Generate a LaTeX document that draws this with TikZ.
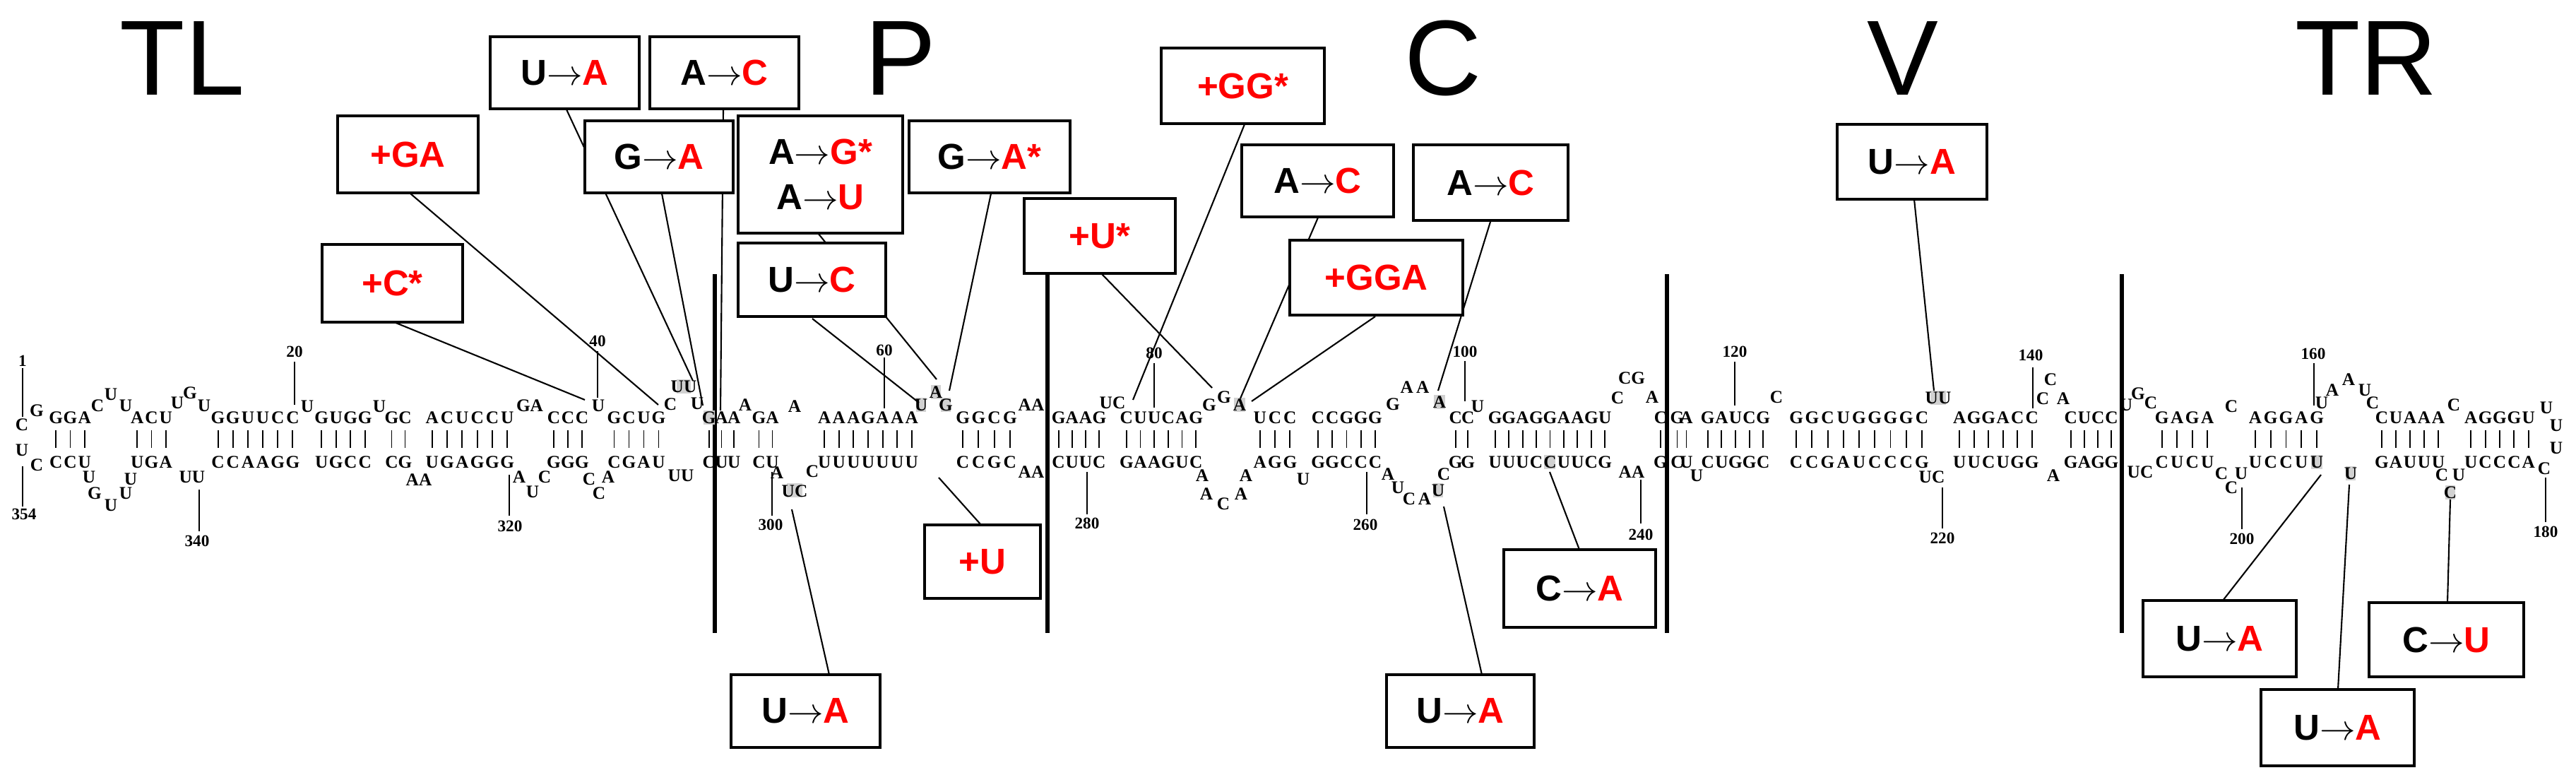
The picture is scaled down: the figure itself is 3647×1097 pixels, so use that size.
\documentclass[tikz,border=0pt]{standalone}
\usepackage{fontspec}
\setmainfont{Liberation Serif}
\newfontfamily\sansf{Liberation Sans}
\begin{document}
\newcounter{ntc}
\tikzset{
 nt/.style={inner sep=0pt,font=\fontsize{7.2}{7}\selectfont\bfseries},
 num/.style={inner sep=0pt,font=\fontsize{6.6}{7}\selectfont\bfseries},
 bar/.style={line width=0.55pt,shorten <=0.09cm,shorten >=0.11cm},
 tick/.style={line width=0.5pt},
 conn/.style={line width=0.6pt},
 sep/.style={line width=1.8pt},
 box/.style={draw,line width=1.3pt,fill=white,inner sep=0pt,font=\sansf\fontsize{14.5}{18}\selectfont\bfseries,align=center},
 reg/.style={inner sep=0pt,font=\sansf\fontsize{43}{43}\selectfont},
 hlc/.style={fill=black!18}
}
\newcommand\nt[3]{\stepcounter{ntc}\node[nt] (n\thentc) at (#1,#2) {#3};}
\newcommand\hl[3]{\fill[hlc] ({#1-#3},{#2-10}) rectangle ({#1+#3},{#2+10});}
\newcommand\pairseg[4]{% x1 x2 n  list top/bottom
 \foreach \t/\b [count=\i] in {#4} {\stepcounter{ntc}%
  \pgfmathsetmacro\xx{#1+(#2-#1)*(\i-0.5)/#3}%
  \node[nt] (t\thentc) at (\xx,591) {\t};
  \node[nt] (b\thentc) at (\xx,654) {\b};
  \draw[bar] (t\thentc.south) -- (b\thentc.north);}}
\newcommand\numl[6]{% name x labely linex y1 y2
 \node[num] (#1) at (#2,#3) {#1};
 \coordinate (#1a) at (#4,#5); \coordinate (#1b) at (#4,#6);
 \draw[tick] (#1a) -- (#1b);}
\newcommand\bx[6]{\node[box,minimum width={(#3-#2)*0.01cm},minimum height={(#5-#4)*0.01cm}] (#1) at ({(#2+#3)/2},{(#4+#5)/2}) {#6};}
\newcommand\ar{$\rightarrow$}
\newcommand\rd[1]{\textcolor{red}{#1}}
\begin{tikzpicture}[x=0.01cm,y=-0.01cm]
\useasboundingbox (0,0) rectangle (3647,1097);
% region labels
\node[reg] (TL) at (258,82) {TL};
\node[reg] (P) at (1275,82) {P};
\node[reg] (C) at (2043,82) {C};
\node[reg] (V) at (2694,82) {V};
\node[reg] (TR) at (3350,82) {TR};
% separators
\foreach \x/\k in {1012/1,1483/2,2360/3,3004/4}{
 \coordinate (sa\k) at (\x,388); \coordinate (sb\k) at (\x,896);
 \draw[sep] (sa\k) -- (sb\k);}
% highlights
\hl{968}{547}{10}\hl{1004}{591}{8}\hl{1304}{573}{7}\hl{1325}{555}{7}\hl{1339}{573}{7}
\hl{1755}{573}{8}\hl{2038}{569}{8}\hl{2036}{694}{7}\hl{2194}{654}{8}\hl{2744}{563}{11}
\hl{3280}{654}{8}\hl{3328}{670}{7}\hl{3469}{697}{7}\hl{1125}{694}{11}
% paired stems
\pairseg{69}{130}{3}{G/C,G/C,A/U}
\pairseg{184}{245}{3}{A/U,C/G,U/A}
\pairseg{298}{425}{6}{G/C,G/C,U/A,U/A,C/G,C/G}
\pairseg{445}{527}{4}{G/U,U/G,G/C,G/C}
\pairseg{545}{583}{2}{G/C,C/G}
\pairseg{601}{729}{6}{A/U,C/G,U/A,C/G,C/G,U/G}
\pairseg{774}{834}{3}{C/G,C/G,C/G}
\pairseg{859}{943}{4}{G/C,C/G,U/A,G/U}
\pairseg{995}{1048}{3}{G/C,A/U,A/U}
\pairseg{1065}{1103}{2}{G/C,A/U}
\pairseg{1157}{1301}{7}{A/U,A/U,A/U,G/U,A/U,A/U,A/U}
\pairseg{1352}{1441}{4}{G/C,G/C,C/G,G/C}
\pairseg{1489}{1566}{4}{G/C,A/U,A/U,G/C}
\pairseg{1585}{1703}{6}{C/G,U/A,U/A,C/G,A/U,G/C}
\pairseg{1773}{1837}{3}{U/A,C/G,C/G}
\pairseg{1856}{1957}{5}{C/G,C/G,G/C,G/C,G/C}
\pairseg{2052}{2087}{2}{C/G,C/G}
\pairseg{2107}{2282}{9}{G/U,G/U,A/U,G/C,G/C,A/U,A/U,G/C,U/G}
\pairseg{2343}{2359}{1}{C/G}
\pairseg{2368}{2394}{2}{G/C,A/U}
\pairseg{2408}{2506}{5}{G/C,A/U,U/G,C/G,G/C}
\pairseg{2532}{2732}{9}{G/C,G/C,C/G,U/A,G/U,G/C,G/C,G/C,C/G}
\pairseg{2764}{2887}{6}{A/U,G/U,G/C,A/U,C/G,C/G}
\pairseg{2922}{2999}{4}{C/G,U/A,C/G,C/G}
\pairseg{3050}{3136}{4}{G/C,A/U,G/C,A/U}
\pairseg{3182}{3291}{5}{A/U,G/C,G/C,A/U,G/U}
\pairseg{3362}{3462}{5}{C/G,U/A,A/U,A/U,A/U}
\pairseg{3488}{3590}{5}{A/U,G/C,G/C,G/C,U/A}
% unpaired bases
\nt{31}{601}{C}\nt{31}{637}{U}\nt{52}{581}{G}\nt{52}{658}{C}
\nt{138}{574}{C}\nt{157}{558}{U}\nt{178}{574}{U}
\nt{126}{675}{U}\nt{134}{698}{G}\nt{157}{715}{U}\nt{178}{698}{U}\nt{185}{678}{U}
\nt{251}{570}{U}\nt{269}{556}{G}\nt{289}{574}{U}\nt{272}{675}{UU}
\nt{435}{575}{U}\nt{537}{575}{U}\nt{593}{679}{AA}
\nt{750}{574}{GA}\nt{735}{675}{A}\nt{754}{696}{U}\nt{771}{675}{C}
\nt{847}{574}{U}\nt{834}{678}{C}\nt{861}{675}{A}\nt{848}{698}{C}
\nt{949}{572}{C}\nt{987}{571}{U}\nt{968}{547}{UU}\nt{964}{673}{UU}
\nt{1055}{573}{A}\nt{1125}{575}{A}
\nt{1100}{669}{A}\nt{1125}{695}{UC}\nt{1150}{667}{C}
\nt{1304}{573}{U}\nt{1325}{555}{A}\nt{1339}{573}{G}
\nt{1460}{573}{AA}\nt{1460}{668}{AA}
\nt{1575}{570}{UC}
\nt{1712}{573}{G}\nt{1733}{562}{G}\nt{1755}{573}{A}
\nt{1702}{673}{A}\nt{1708}{699}{A}\nt{1732}{713}{C}\nt{1757}{699}{A}\nt{1764}{673}{A}
\nt{1845}{678}{U}
\nt{1972}{572}{G}\nt{2003}{548}{A\,A}\nt{2038}{569}{A}\nt{2092}{575}{U}
\nt{1965}{671}{A}\nt{1979}{690}{U}\nt{1995}{706}{C}\nt{2017}{706}{A}\nt{2036}{694}{U}\nt{2044}{671}{C}
\nt{2290}{563}{C}\nt{2310}{535}{CG}\nt{2339}{562}{A}\nt{2310}{668}{AA}
\nt{2402}{673}{U}\nt{2515}{562}{C}\nt{2744}{563}{UU}\nt{2735}{675}{UC}
\nt{2903}{537}{C}\nt{2892}{564}{C}\nt{2921}{564}{A}\nt{2907}{673}{A}
\nt{3010}{573}{U}\nt{3027}{557}{G}\nt{3045}{570}{C}\nt{3030}{668}{UC}
\nt{3159}{575}{C}\nt{3145}{670}{C}\nt{3173}{670}{U}\nt{3159}{690}{C}
\nt{3287}{570}{U}\nt{3302}{552}{A}\nt{3325}{537}{A}\nt{3348}{552}{U}\nt{3359}{570}{C}
\nt{3328}{670}{U}
\nt{3474}{573}{C}\nt{3457}{672}{C}\nt{3481}{672}{U}\nt{3469}{697}{C}
\nt{3605}{577}{U}\nt{3619}{602}{U}\nt{3619}{634}{U}\nt{3602}{663}{C}
% numbering
\numl{1}{32}{511}{32}{521}{590}
\numl{354}{34}{728}{32}{660}{717}
\numl{20}{417}{498}{417}{512}{573}
\numl{40}{846}{483}{846}{497}{563}
\numl{60}{1252}{496}{1252}{506}{578}
\numl{80}{1634}{500}{1634}{514}{577}
\numl{100}{2074}{498}{2074}{511}{568}
\numl{120}{2456}{498}{2456}{512}{574}
\numl{140}{2875}{503}{2878}{520}{578}
\numl{160}{3275}{501}{3276}{514}{574}
\numl{340}{279}{766}{282}{693}{752}
\numl{320}{722}{745}{721}{672}{730}
\numl{300}{1091}{743}{1093}{668}{730}
\numl{280}{1539}{741}{1539}{668}{728}
\numl{260}{1933}{743}{1935}{668}{728}
\numl{240}{2323}{757}{2323}{679}{741}
\numl{220}{2750}{762}{2750}{690}{748}
\numl{200}{3174}{763}{3174}{690}{749}
\numl{180}{3604}{753}{3604}{676}{739}
% connectors
\foreach \k/\sx/\sy/\ex/\ey in {
 1/558/456/828/566, 2/581/274/932/573, 3/802/155/981/539, 4/937/274/995/574,
 5/1024/155/1020/581, 6/1150/451/1301/570, 7/1158/330/1326/537, 8/1403/274/1344/553,
 9/1389/743/1329/676, 10/1174/955/1121/721, 11/1560/388/1716/549, 12/1762/176/1604/566,
 13/1866/308/1756/564, 14/2110/314/2036/553, 15/1947/448/1772/568, 16/2098/955/2044/717,
 17/2236/778/2194/668, 18/2710/282/2738/553, 19/3147/850/3286/672, 20/3310/976/3326/686,
 21/3465/853/3469/707}{
 \coordinate (cs\k) at (\sx,\sy); \coordinate (ce\k) at (\ex,\ey);
 \draw[conn] (cs\k) -- (ce\k);}
% boxes
\bx{bUA1}{694}{905}{52}{154}{U\ar\rd{A}}
\bx{bAC1}{920}{1131}{52}{154}{A\ar\rd{C}}
\bx{bpGA}{478}{677}{164}{273}{\rd{+GA}}
\bx{bGA}{828}{1038}{171}{273}{G\ar\rd{A}}
\bx{bAG}{1045}{1278}{164}{330}{A\ar\rd{G*}\\A\ar\rd{U}}
\bx{bpC}{456}{655}{346}{456}{\rd{+C*}}
\bx{bUC}{1045}{1254}{344}{448}{U\ar\rd{C}}
\bx{bUA2}{1035}{1246}{955}{1058}{U\ar\rd{A}}
\bx{bGAs}{1287}{1515}{171}{273}{G\ar\rd{A*}}
\bx{bpUs}{1450}{1664}{281}{387}{\rd{+U*}}
\bx{bpGG}{1644}{1875}{68}{175}{\rd{+GG*}}
\bx{bAC2}{1758}{1973}{205}{307}{A\ar\rd{C}}
\bx{bAC3}{2001}{2220}{205}{312}{A\ar\rd{C}}
\bx{bpGGA}{1826}{2071}{340}{446}{\rd{+GGA}}
\bx{bpU}{1309}{1473}{743}{847}{\rd{+U}}
\bx{bUA3}{1963}{2172}{955}{1058}{U\ar\rd{A}}
\bx{bCA}{2129}{2344}{778}{888}{C\ar\rd{A}}
\bx{bUA4}{2601}{2813}{176}{282}{U\ar\rd{A}}
\bx{bUA5}{3034}{3251}{850}{958}{U\ar\rd{A}}
\bx{bUA6}{3201}{3418}{976}{1084}{U\ar\rd{A}}
\bx{bCU}{3354}{3573}{853}{958}{C\ar\rd{U}}
\end{tikzpicture}
\end{document}
